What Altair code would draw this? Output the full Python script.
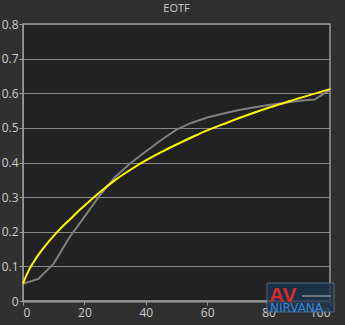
import altair as alt
import pandas as pd

gray_x = [0, 5, 10, 15, 20, 25, 30, 35, 40, 45, 50, 55, 60, 65, 70, 75, 80, 85, 90, 95, 100]
gray_y = [0.05, 0.064, 0.108, 0.182, 0.243, 0.305, 0.358, 0.398, 0.432, 0.465, 0.495, 0.515, 0.53, 0.541, 0.551, 0.559, 0.566, 0.572, 0.578, 0.582, 0.61]

yellow_x = [0, 1, 2, 3, 4, 5, 7.5, 10, 12.5, 15, 17.5, 20, 25, 30, 35, 40, 45, 50, 55, 60, 65, 70, 75, 80, 85, 90, 95, 100]
yellow_y = [0.05, 0.072, 0.09, 0.106, 0.12, 0.133, 0.162, 0.188, 0.212, 0.233, 0.255, 0.275, 0.314, 0.349, 0.379, 0.406, 0.43, 0.452, 0.473, 0.493, 0.51, 0.527, 0.543, 0.558, 0.572, 0.586, 0.599, 0.612]

gray_df = pd.DataFrame({"x": gray_x, "y": gray_y})
yellow_df = pd.DataFrame({"x": yellow_x, "y": yellow_y})

x_scale = alt.Scale(domain=[0, 100], nice=False)
y_scale = alt.Scale(domain=[0, 0.8], nice=False)

x_enc = alt.X("x:Q", scale=x_scale, title=None,
              axis=alt.Axis(values=[0, 20, 40, 60, 80, 100], grid=False, tickSize=4,
                            tickColor="#999999", domainColor="#999999", domainWidth=2,
                            labelColor="#cccccc", labelFontSize=12, labelPadding=2))
y_enc = alt.Y("y:Q", scale=y_scale, title=None,
              axis=alt.Axis(values=[0, 0.1, 0.2, 0.3, 0.4, 0.5, 0.6, 0.7, 0.8], grid=True,
                            gridColor="#8a8a8a", gridWidth=1.2, tickSize=4,
                            tickColor="#999999", domainColor="#999999",
                            labelExpr="datum.value == 0 ? '0' : format(datum.value, '.1f')",
                            labelColor="#cccccc", labelFontSize=12, labelPadding=1))

gray_line = alt.Chart(gray_df).mark_line(strokeWidth=2, color="#808080").encode(x=x_enc, y=y_enc)
yellow_line = alt.Chart(yellow_df).mark_line(strokeWidth=2, color="#ffff00", interpolate="monotone").encode(x=x_enc, y=y_enc)

one = pd.DataFrame({"a": [0]})
logo_box = alt.Chart(one).mark_rect(fill="#1d3550", stroke="#5a7a95", opacity=0.8).encode(
    x=alt.value(244), x2=alt.value(311), y=alt.value(259), y2=alt.value(288)
)
logo_av = alt.Chart(one).mark_text(text="AV", color="#d42a2a", fontSize=21, fontWeight="bold",
                                   font="Liberation Sans", align="left", baseline="alphabetic").encode(
    x=alt.value(246), y=alt.value(278)
)
logo_pulse = alt.Chart(one).mark_rule(color="#bbbbbb", strokeWidth=1).encode(
    x=alt.value(279), x2=alt.value(308), y=alt.value(272)
)
logo_n = alt.Chart(one).mark_text(text="NIRVANA", color="#3a86d8", fontSize=12,
                                  font="DejaVu Sans", align="left", baseline="alphabetic").encode(
    x=alt.value(247), y=alt.value(288)
)

chart = alt.layer(gray_line, yellow_line, logo_box, logo_av, logo_pulse, logo_n).properties(
    width=307, height=277,
    title=alt.TitleParams("EOTF", color="#cccccc", fontSize=11, fontWeight="normal", font="Open Sans", offset=4),
    autosize=alt.AutoSizeParams(type="none"),
    padding={"left": 23, "top": 24, "right": 15, "bottom": 24},
    background="#303030",
).configure_view(
    fill="#222222", stroke="#999999", strokeWidth=1.5
).configure_axis(
    labelFont="Open Sans"
)

chart.save("out.html", embed_options={"renderer": "svg", "actions": False})
